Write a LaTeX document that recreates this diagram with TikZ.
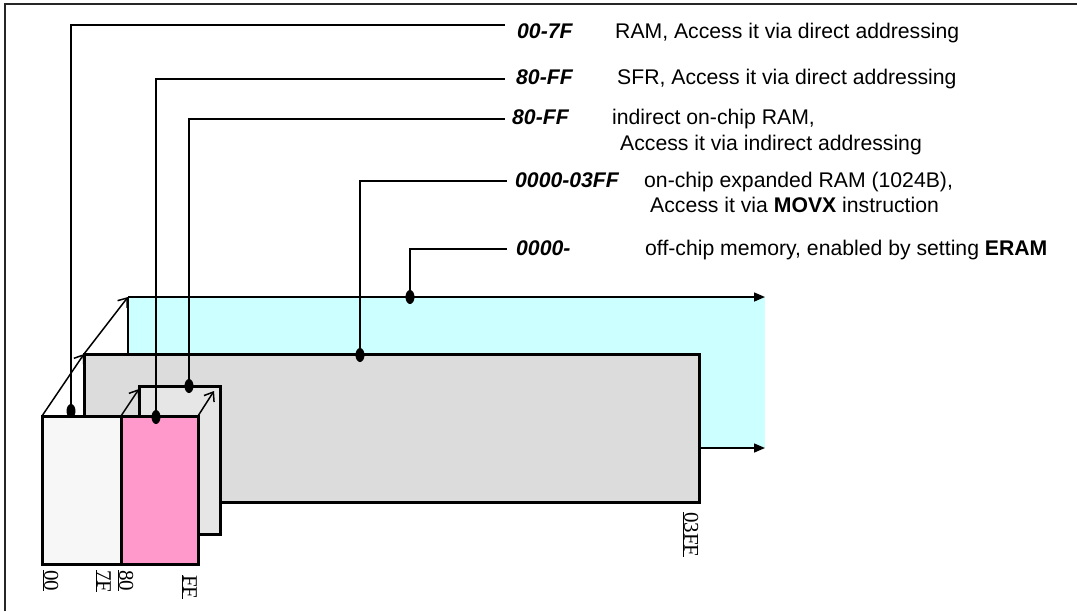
\documentclass[tikz,border=0pt]{standalone}
\usepackage{fontspec}
\setmainfont{Liberation Sans}
\newfontfamily\numfont{Liberation Serif}
\usetikzlibrary{arrows.meta,shapes.geometric}
\definecolor{cyanfill}{HTML}{CCFFFF}
\definecolor{grayfill}{HTML}{DCDCDC}
\definecolor{lgrayfill}{HTML}{E6E6E6}
\definecolor{whitefill}{HTML}{F7F7F7}
\definecolor{pinkfill}{HTML}{FF99CC}
\begin{document}
\begin{tikzpicture}[x=1pt,y=-1pt,
  box/.style={draw=black,line width=3pt,inner sep=0pt,outer sep=0pt,anchor=north west},
  leader/.style={line width=1.5pt},
  dot/.style={ellipse,fill=black,inner sep=0pt,minimum width=9pt,minimum height=14pt},
  lbl/.style={font=\fontsize{21.2}{25}\selectfont,anchor=base west,inner sep=0pt},
  key/.style={anchor=base west,inner sep=0pt,font=\fontsize{21.2}{25}\selectfont\bfseries\itshape},
  addr/.style={font=\numfont\fontsize{21}{24}\selectfont,rotate=-90,anchor=south west,inner sep=0pt},
  bigarrow/.style={leader,-{Triangle[length=11pt,width=9pt]}},
  openarrow/.style={leader,-{Straight Barb[length=8pt,width=12pt]}}
]
\useasboundingbox (0,0) rectangle (1077,611);
% frame
\draw[line width=2pt,black!85] (5,611) -- (5,4) -- (1077,4);
% off-chip (cyan) area
\fill[cyanfill] (128,297) rectangle (765,448);
\coordinate (cyTL) at (128,297);
\coordinate (cyTR) at (765,297);
\coordinate (cyBR) at (765,448);
\coordinate (cyL) at (128,355);
\draw[leader] (cyL) -- (cyTL);
\draw[bigarrow] (cyTL) -- (cyTR);
% boxes
\node[box,fill=grayfill,minimum width=615pt,minimum height=148pt] (gray) at (84,354) {};
\draw[bigarrow] (gray.east |- cyBR) -- (cyBR);
\node[box,fill=lgrayfill,minimum width=81pt,minimum height=148pt] (lgray) at (139,386) {};
\node[box,fill=whitefill,minimum width=79pt,minimum height=148pt] (white) at (42,416) {};
\node[box,fill=pinkfill,minimum width=77pt,minimum height=148pt] (pink) at (121,416) {};
% diagonal arrows
\draw[openarrow] (white.north west) -- (gray.north west);
\draw[openarrow] (gray.north west) -- (cyTL);
\coordinate (a1) at (139,389);
\coordinate (a2) at (214,391);
\draw[openarrow] (pink.north west) -- (a1);
\draw[openarrow] (pink.north east) -- (a2);
% dots
\node[dot] (d1) at (71,411) {};
\node[dot] (d2) at (156,417) {};
\node[dot] (d3) at (189,386) {};
\node[dot] (d4) at (360,355) {};
\node[dot] (d5) at (410,297) {};
% leader ends
\coordinate (e1) at (505,25);
\coordinate (e2) at (505,79);
\coordinate (e3) at (505,119);
\coordinate (e4) at (507,181);
\coordinate (e5) at (507,249);
\draw[leader] (d1.center) |- (e1);
\draw[leader] (d2.center) |- (e2);
\draw[leader] (d3.center) |- (e3);
\draw[leader] (d4.center) |- (e4);
\draw[leader] (d5.center) |- (e5);
% texts
\node[key] (k1) at (517,38) {00-7F};
\node[lbl] (t1) at (615,38) {RAM, Access it via direct addressing};
\node[key] (k2) at (516,84) {80-FF};
\node[lbl] (t2) at (617,84) {SFR, Access it via direct addressing};
\node[key] (k3) at (512,124) {80-FF};
\node[lbl] (t3) at (612,124) {indirect on-chip RAM,};
\node[lbl] (t3b) at (620,150) {Access it via indirect addressing};
\node[key] (k4) at (515,187) {0000-03FF};
\node[lbl] (t4) at (644,187) {on-chip expanded RAM (1024B),};
\node[lbl] (t4b) at (650,212) {Access it via \textbf{MOVX} instruction};
\node[key] (k5) at (516,255) {0000-};
\node[lbl] (t5) at (645,255) {off-chip memory, enabled by setting \textbf{ERAM}};
% address labels
\node[addr] (l00) at (42,570) {\underline{00}};
\node[addr] (l7f) at (95,570) {\underline{7F}};
\node[addr] (l80) at (117,570) {\underline{80}};
\node[addr] (lff) at (181,575) {\underline{FF}};
\node[addr] (l3ff) at (682,512) {\underline{03FF}};
\end{tikzpicture}
\end{document}
